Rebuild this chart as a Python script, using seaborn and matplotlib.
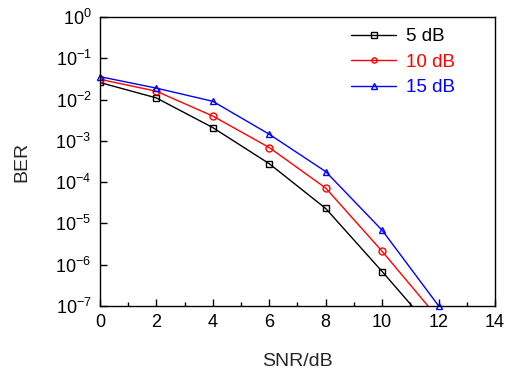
import numpy as np
import pandas as pd
import seaborn as sns
import matplotlib
matplotlib.use("Agg")
import matplotlib.pyplot as plt
from matplotlib.ticker import LogLocator, MultipleLocator, NullLocator

# values
snr = [0, 2, 4, 6, 8, 10, 12]
ber_5db = [0.026, 0.011, 0.0021, 2.8e-4, 2.3e-5, 6.8e-7, 1.8e-8]
ber_10db = [0.031, 0.016, 0.0040, 6.9e-4, 7.2e-5, 2.1e-6, 4.9e-8]
ber_15db = [0.036, 0.019, 0.0091, 1.45e-3, 1.8e-4, 6.8e-6, 1.0e-7]
labels = ["5 dB", "10 dB", "15 dB"]
colors = ["black", "red", "blue"]
markers = ["s", "o", "^"]

sns.set_style("ticks")
plt.rcParams["font.family"] = ["Liberation Sans", "DejaVu Sans"]
plt.rcParams["mathtext.fontset"] = "custom"
plt.rcParams["mathtext.rm"] = "Liberation Sans"
plt.rcParams["mathtext.it"] = "Liberation Sans:italic"
plt.rcParams["mathtext.bf"] = "Liberation Sans:bold"

fig = plt.figure(figsize=(5.12, 3.8), dpi=100)
ax = fig.add_axes([0.195, 0.195, 0.772, 0.76])

for lab, vals, col, mk in zip(labels, [ber_5db, ber_10db, ber_15db], colors, markers):
    df = pd.DataFrame({"SNR": snr, "BER": vals})
    # the 15 dB curve ends exactly on the bottom axis, keep its last marker whole
    sns.lineplot(data=df, x="SNR", y="BER", ax=ax, color=col, marker=mk,
                 markersize=5, mfc="none", mec=col, mew=1.0, lw=1.0,
                 label=lab, clip_on=(lab != "15 dB"))

ax.set_yscale("log")
ax.set_xlim(0, 14)
ax.set_ylim(1e-7, 1)
ax.xaxis.set_major_locator(MultipleLocator(2))
ax.xaxis.set_minor_locator(MultipleLocator(1))
ax.yaxis.set_major_locator(LogLocator(base=10, numticks=10))
ax.yaxis.set_minor_locator(NullLocator())
ax.tick_params(which="both", direction="in", top=False, right=False,
               labelsize=13, colors="black")
ax.tick_params(which="major", length=5, width=1, pad=6)
ax.tick_params(which="minor", length=3, width=1)
for s in ax.spines.values():
    s.set_visible(True)
    s.set_linewidth(1.0)
    s.set_color("black")

ax.set_xlabel("SNR/dB", fontsize=14, labelpad=16)
ax.set_ylabel("BER", fontsize=14, labelpad=18)

leg = ax.legend(loc="upper right", frameon=False, fontsize=13.5, markerscale=0.75,
                handlelength=2.4, handletextpad=0.5, labelspacing=0.45,
                bbox_to_anchor=(0.94, 1.02))
for txt, col in zip(leg.get_texts(), colors):
    txt.set_color(col)

fig.savefig("out.png", dpi=100)
